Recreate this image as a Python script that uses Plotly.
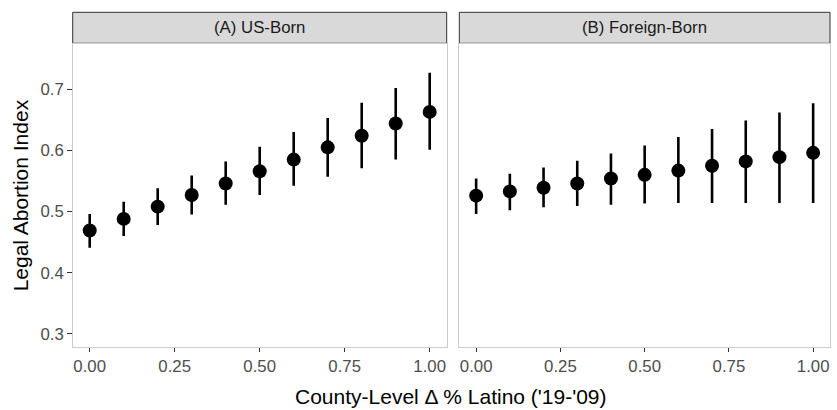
import plotly.graph_objects as go

# Predicted legal abortion index by change in county Latino share
x_vals = [0.0, 0.1, 0.2, 0.3, 0.4, 0.5, 0.6, 0.7, 0.8, 0.9, 1.0]

us_est = [0.469, 0.488, 0.508, 0.527, 0.546, 0.566, 0.585, 0.605, 0.624, 0.644, 0.663]
us_lo = [0.441, 0.460, 0.478, 0.495, 0.511, 0.527, 0.542, 0.557, 0.571, 0.585, 0.601]
us_hi = [0.496, 0.516, 0.538, 0.559, 0.582, 0.606, 0.630, 0.653, 0.678, 0.702, 0.727]

fb_est = [0.526, 0.533, 0.539, 0.546, 0.554, 0.560, 0.567, 0.575, 0.582, 0.589, 0.596]
fb_lo = [0.496, 0.502, 0.507, 0.509, 0.511, 0.513, 0.514, 0.514, 0.514, 0.514, 0.514]
fb_hi = [0.554, 0.562, 0.572, 0.583, 0.595, 0.608, 0.622, 0.635, 0.649, 0.662, 0.677]

panel_titles = ["(A) US-Born", "(B) Foreign-Born"]
x_ticks = [0.0, 0.25, 0.5, 0.75, 1.0]
y_ticks = [0.3, 0.4, 0.5, 0.6, 0.7]

W, H = 837, 410
FONT = "Liberation Sans, Arial, sans-serif"
TITLE_SIZE = 21
SMALL_SIZE = 16.8

fig = go.Figure()

panels = [
    (us_est, us_lo, us_hi, "x", "y"),
    (fb_est, fb_lo, fb_hi, "x2", "y2"),
]
for est, lo, hi, xa, ya in panels:
    fig.add_trace(go.Scatter(
        x=x_vals, y=est, mode="markers", xaxis=xa, yaxis=ya,
        marker=dict(color="black", size=14),
        error_y=dict(
            type="data", symmetric=False,
            array=[h - e for h, e in zip(hi, est)],
            arrayminus=[e - l for e, l in zip(est, lo)],
            color="black", thickness=2.6, width=0,
        ),
        showlegend=False, hoverinfo="skip",
    ))

# Panel geometry (paper fractions)
xa_dom = [72.7 / W, 446.7 / W]
xb_dom = [459.3 / W, 830.0 / W]
y_dom = [(H - 346.7) / H, (H - 44.0) / H]
x_range = [-0.05, 1.05]
y_range = [0.279, 0.774]

tick_font = dict(family=FONT, size=SMALL_SIZE, color="#4D4D4D")

axis_common = dict(
    range=x_range, tickvals=x_ticks, tickformat=".2f",
    ticks="outside", ticklen=4.5, tickwidth=1.1, tickcolor="#333333",
    tickfont=tick_font,
    showgrid=False, zeroline=False,
    showline=True, linecolor="#CCCCCC", linewidth=1, mirror=True,
)

fig.update_layout(
    width=W, height=H,
    margin=dict(l=0, r=0, t=0, b=0),
    paper_bgcolor="white", plot_bgcolor="white",
    xaxis=dict(domain=xa_dom, anchor="y", **axis_common),
    xaxis2=dict(domain=xb_dom, anchor="y2", **axis_common),
    yaxis=dict(
        domain=y_dom, anchor="x", range=y_range, tickvals=y_ticks,
        tickformat=".1f", ticks="outside", ticklen=4.5, tickwidth=1.1,
        tickcolor="#333333", tickfont=tick_font,
        showgrid=False, zeroline=False,
        showline=True, linecolor="#CCCCCC", linewidth=1, mirror=True,
    ),
    yaxis2=dict(
        domain=y_dom, anchor="x2", range=y_range, showticklabels=False,
        ticks="", showgrid=False, zeroline=False,
        showline=True, linecolor="#CCCCCC", linewidth=1, mirror=True,
    ),
)

# Facet strips
strip_y0 = (H - 43.3) / H
strip_y1 = (H - 12.3) / H
for dom, title in zip([xa_dom, xb_dom], panel_titles):
    fig.add_shape(
        type="rect", xref="paper", yref="paper",
        x0=dom[0], x1=dom[1], y0=strip_y0, y1=strip_y1,
        fillcolor="#D9D9D9", line=dict(color="#333333", width=1),
        layer="below",
    )
    fig.add_annotation(
        xref="paper", yref="paper",
        x=(dom[0] + dom[1]) / 2, y=(strip_y0 + strip_y1) / 2,
        text=title, showarrow=False,
        font=dict(family=FONT, size=SMALL_SIZE, color="#1A1A1A"),
        xanchor="center", yanchor="middle",
    )

# Axis titles
fig.add_annotation(
    xref="paper", yref="paper",
    x=(xa_dom[0] + xb_dom[1]) / 2, y=(H - 396) / H,
    text="County-Level \u0394 % Latino ('19-'09)", showarrow=False,
    font=dict(family=FONT, size=TITLE_SIZE, color="black"),
    xanchor="center", yanchor="middle",
)
fig.add_annotation(
    xref="paper", yref="paper",
    x=20 / W, y=(y_dom[0] + y_dom[1]) / 2,
    text="Legal Abortion Index", showarrow=False, textangle=-90,
    font=dict(family=FONT, size=TITLE_SIZE, color="black"),
    xanchor="center", yanchor="middle",
)

fig.write_html("out.html")
